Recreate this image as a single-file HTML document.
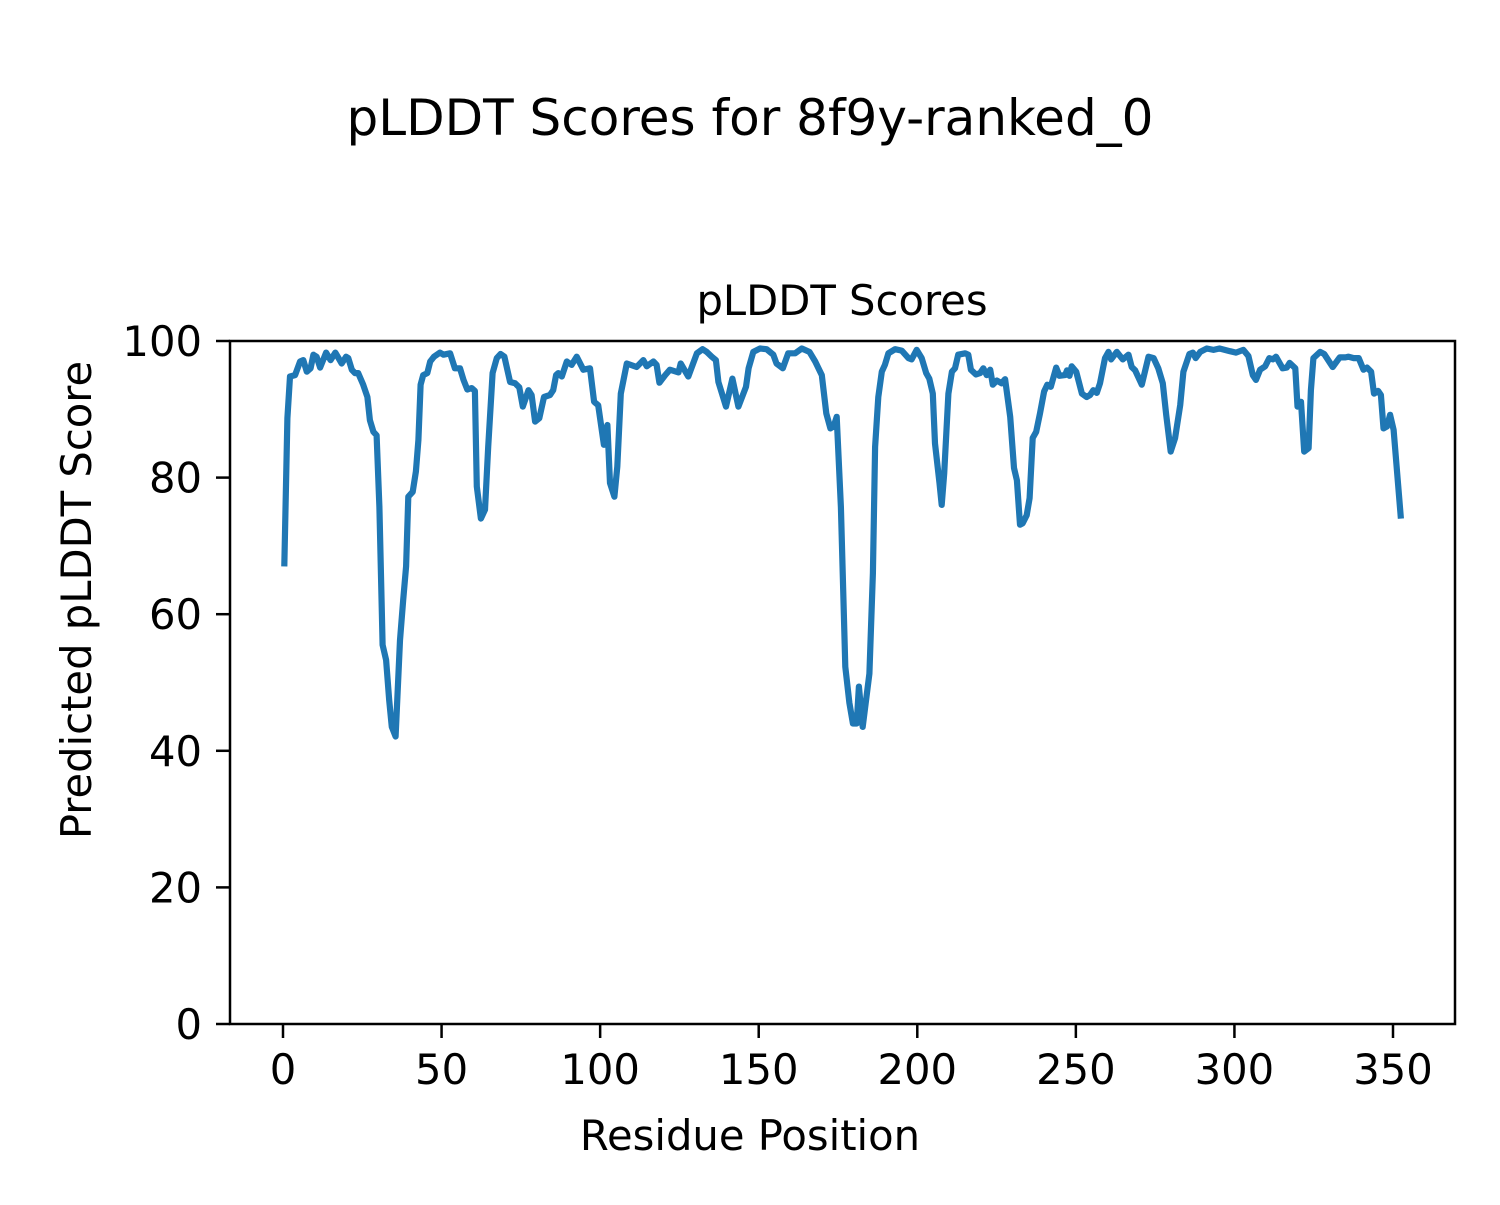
<!DOCTYPE html>
<html><head><meta charset="utf-8"><style>
html,body{margin:0;padding:0;background:#fff;}
svg text{font-family:"DejaVu Sans","Liberation Sans",sans-serif;fill:#000;}
</style></head><body>
<svg id="chart" width="1500" height="1200" viewBox="0 0 1500 1200" xmlns="http://www.w3.org/2000/svg">
<rect width="1500" height="1200" fill="#fff"/>
<text x="750" y="135" font-size="50" text-anchor="middle">pLDDT Scores for 8f9y-ranked_0</text>
<text x="842" y="315" font-size="41.7" text-anchor="middle">pLDDT Scores</text>
<g id="plot"></g>
<rect x="230" y="341" width="1225" height="683" fill="none" stroke="#000" stroke-width="2.5"/>
<g id="xticks"></g>
<g id="yticks"></g>
<text x="750" y="1150" font-size="41.7" text-anchor="middle">Residue Position</text>
<text x="0" y="0" font-size="41.7" text-anchor="middle" transform="translate(91,600) rotate(-90)">Predicted pLDDT Score</text>
</svg>
<script>
const residues=[0.4,1.4,2.2,3.8,5.4,6.4,7.5,8.7,9.6,10.6,11.7,13.6,15,16.5,18.5,19.9,20.6,21.7,22.7,23.7,25.3,26.6,27.4,28.5,29.5,30.4,31.4,32.5,33.5,34.3,35.5,36.9,37.9,38.8,39.5,40.9,41.9,42.7,43.4,44.2,45.5,46.4,47.6,49.5,50.6,52.7,54.2,55.8,56.9,58.1,59.5,60.5,61.1,62.4,63.7,64.7,66.1,67.4,68.6,69.8,71.6,73.2,74.5,75.6,77.4,78.4,79.5,80.8,82.3,84.2,85.2,86.1,86.8,87.9,89.5,91,92.6,94.7,96.8,98.1,99.4,101.2,102.3,103.1,104.5,105.4,106.5,108.4,111.5,113.6,114.7,116.8,117.8,118.7,120.5,122,124.7,125.4,127.8,130.5,132.3,133.6,135.2,136.5,137.3,139.7,141.7,143.6,146,146.8,148.3,150.4,152.5,154.6,155.6,157.6,159.3,161.5,163.6,166,167.8,169.9,171.3,172.6,173.6,174.6,175.9,177.3,178.6,179.7,180.9,181.6,182.8,184.9,186,186.7,187.7,188.8,189.8,190.9,193,195.1,197.2,198.2,199.8,201.4,202.8,203.8,204.9,205.6,207,207.7,208.5,209.8,210.9,211.9,212.9,215.1,216.1,216.9,218.5,219.8,220.8,221.9,223,223.8,225.1,226.6,227.7,229.3,230.5,231.4,232.4,233.2,234.5,235.4,236.4,237.5,238.7,240,241,242.1,243.8,244.8,246.6,247.2,248,248.7,250.1,251.9,253.4,254.5,255.5,256.6,257.6,259.2,260.3,261.1,262.9,264.8,266.6,267.6,268.7,270.8,272.9,274.5,276,277.4,278.5,279.9,281.3,282.9,283.9,285.8,286.9,287.8,289.2,291.3,293.4,295.3,298.6,300.5,302.8,304.4,305.8,306.8,308.1,309.7,311,312.1,313.1,315.2,316.5,317.4,319.2,319.9,321,322,323.4,324.1,324.9,327,328.3,331,333.2,335,336,337.6,339.2,340.7,341.8,343.1,344,345.3,346.2,347,348.1,349.1,350.2,352.5];
const scores=[67,88.7,94.8,95,97,97.2,95.5,96,98,97.7,96.1,98.3,97.2,98.3,96.7,97.7,97.5,95.8,95.3,95.3,93.6,91.8,88.4,86.7,86.2,75.7,55.5,53.3,47.4,43.5,42.1,56.2,62.1,67,77.2,77.9,80.9,85.5,93.6,95,95.3,97,97.7,98.3,98,98.2,96,96,94.3,92.9,93.1,92.7,78.7,74,75.3,84.5,95.3,97.5,98.1,97.7,94,93.8,93.2,90.4,92.8,92.1,88.2,88.7,91.8,92.1,92.8,95,95.3,94.8,97,96.5,97.7,95.8,96,91.1,90.6,84.8,87.7,79.2,77.2,81.6,92.3,96.7,96.2,97.2,96.3,97,96.5,93.9,95,95.8,95.4,96.7,94.8,98.2,98.8,98.4,97.7,97.2,94,90.4,94.5,90.4,93.3,96,98.4,98.9,98.8,98,96.7,96,98.2,98.2,98.9,98.4,97,95,89.4,87.2,87.5,88.9,75.7,52.3,47,44,44,49.4,43.5,51.3,66,84.5,91.8,95.5,96.5,98.2,98.8,98.6,97.5,97.3,98.7,97.5,95.3,94.5,92.3,85,79.2,76,80.6,92.3,95.5,96,98,98.2,98,95.8,95.1,95.3,96,95,95.8,93.6,94.2,93.8,94.4,88.9,81.4,79.6,73.1,73.3,74.5,77,85.8,86.7,89.4,92.6,93.6,93.3,96.1,94.9,95,95.7,94.9,96.3,95.5,92.3,91.8,92.1,92.8,92.4,93.8,97.5,98.4,97.3,98.4,97.3,98,96.2,95.7,93.6,97.7,97.5,96,93.8,89.2,83.8,85.8,90.6,95.5,98.1,98.3,97.5,98.4,98.9,98.7,98.9,98.5,98.3,98.7,97.8,95,94.3,95.8,96.3,97.5,97.3,97.7,96,96.1,96.8,96,90.4,91.1,83.8,84.3,92.8,97.5,98.4,98.1,96.2,97.6,97.6,97.7,97.5,97.5,95.8,96.1,95.5,92.3,92.7,92.1,87.2,87.5,89.2,87,74];
const xTicks=[0,50,100,150,200,250,300,350];
const yTicks=[0,20,40,60,80,100];
const NS='http://www.w3.org/2000/svg';
const X0=230,X1=1455,Y0=1024,Y1=341;
function xs(v){return 283+v*(1393-283)/350;}
function ys(v){return Y0-(v/100)*(Y0-Y1);}
const plot=document.getElementById('plot');
const line=document.createElementNS(NS,'polyline');


line.setAttribute('points',residues.map((r,i)=>xs(r).toFixed(1)+','+ys(scores[i]).toFixed(1)).join(' '));
line.setAttribute('fill','none');line.setAttribute('stroke','#1f77b4');line.setAttribute('stroke-width','6.2');line.setAttribute('stroke-linejoin','round');
plot.appendChild(line);
const xg=document.getElementById('xticks');
xTicks.forEach(t=>{
 const l=document.createElementNS(NS,'line');
 
 
 l.setAttribute('x1',xs(t));l.setAttribute('x2',xs(t));l.setAttribute('y1',Y0);l.setAttribute('y2',Y0+14);l.setAttribute('stroke','#000');l.setAttribute('stroke-width','2.5');
 xg.appendChild(l);
 const tx=document.createElementNS(NS,'text');
 
 
 tx.setAttribute('x',xs(t));tx.setAttribute('y',1084);tx.setAttribute('font-size','41.7');tx.setAttribute('text-anchor','middle');
 tx.textContent=t;xg.appendChild(tx);
});
const yg=document.getElementById('yticks');
yTicks.forEach(t=>{
 const l=document.createElementNS(NS,'line');
 
 
 l.setAttribute('x1',X0-14);l.setAttribute('x2',X0);l.setAttribute('y1',ys(t));l.setAttribute('y2',ys(t));l.setAttribute('stroke','#000');l.setAttribute('stroke-width','2.5');
 yg.appendChild(l);
 const tx=document.createElementNS(NS,'text');
 
 
 tx.setAttribute('x',202);tx.setAttribute('y',ys(t)+15);tx.setAttribute('font-size','41.7');tx.setAttribute('text-anchor','end');
 tx.textContent=t;yg.appendChild(tx);
});
</script>
</body></html>
